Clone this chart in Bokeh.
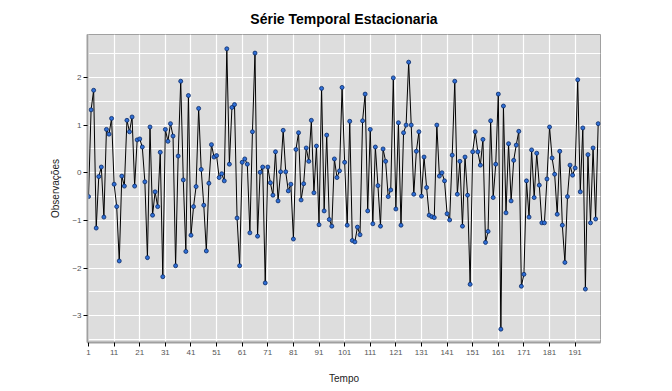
from bokeh.plotting import figure
from bokeh.models import Range1d, FixedTicker
from bokeh.embed import file_html
from bokeh.resources import INLINE

# time index
tempo = list(range(1, 201))

observacoes = [
    -0.50, 1.32, 1.73, -1.16, -0.08, 0.12, -0.93, 0.91, 0.81, 1.14,
    -0.24, -0.71, -1.85, -0.07, -0.28, 1.10, 0.86, 1.17, -0.28, 0.69,
    0.71, 0.54, -0.19, -1.78, 0.96, -0.89, -0.40, -0.71, 0.43, -2.18,
    0.91, 0.66, 1.03, 0.77, -1.95, 0.35, 1.92, -0.15, -1.65, 1.62,
    -1.31, -0.71, -0.29, 1.35, 0.07, -0.68, -1.64, -0.22, 0.59, 0.33,
    0.36, -0.10, -0.02, -0.17, 2.60, 0.18, 1.37, 1.43, -0.95, -1.95,
    0.22, 0.29, 0.18, -1.26, 0.86, 2.51, -1.33, 0.01, 0.12, -2.31,
    0.12, -0.21, -0.47, 0.44, -0.59, 0.02, 0.89, 0.02, -0.38, -0.24,
    -1.39, 0.49, 0.84, -0.57, -0.23, 0.52, 0.24, 1.10, -0.42, 0.56,
    -1.09, 1.77, -0.80, 0.79, -0.98, -1.12, 0.29, -0.10, 0.04, 1.79,
    0.22, -1.10, 1.08, -1.42, -1.45, -1.14, -1.30, 1.09, 1.65, -0.80,
    0.91, -1.07, 0.54, -0.27, -1.12, 0.50, 0.24, -0.50, -0.36, 1.99,
    -0.76, 1.05, -1.10, 0.84, 1.00, 2.32, 1.00, -0.45, 0.45, 0.86,
    -0.49, 0.33, -0.31, -0.89, -0.92, -0.94, 1.00, -0.07, 0.00, -0.17,
    -0.86, -0.99, 0.37, 1.92, -0.45, 0.24, -1.12, 0.33, -0.47, -2.34,
    0.44, 0.86, 0.44, 0.16, 0.70, -1.46, -1.23, 1.09, -0.52, 0.18,
    1.65, -3.28, 1.40, -0.84, 0.61, -0.59, 0.26, 0.58, 0.87, -2.38,
    -2.13, -0.17, -0.93, 0.48, -0.52, 0.41, -0.26, -1.05, -1.05, -0.13,
    0.96, 0.31, -0.03, -0.87, 0.45, -1.10, -1.88, -0.50, 0.16, -0.05,
    0.10, 1.95, -0.40, 0.94, -2.44, 0.38, -1.05, 0.52, -0.97, 1.03,
]

x_ticks = [1, 11, 21, 31, 41, 51, 61, 71, 81, 91, 101, 111, 121, 131, 141,
           151, 161, 171, 181, 191]
y_ticks = [-3, -2, -1, 0, 1, 2]
y_grid = [-3.5, -3, -2.5, -2, -1.5, -1, -0.5, 0, 0.5, 1, 1.5, 2, 2.5]

FONT = "Liberation Sans"

p = figure(width=672, height=391, output_backend="svg", toolbar_location=None,
           x_range=Range1d(0.6, 200.9), y_range=Range1d(-3.56, 2.9),
           min_border_left=87, min_border_right=72,
           min_border_top=33, min_border_bottom=49,
           background_fill_color="#DDDDDD", border_fill_color="white")

p.title.text = "Série Temporal Estacionaria"
p.title.align = "center"
p.title.text_font = FONT
p.title.text_font_size = "14px"
p.title.text_font_style = "bold"
p.title.text_color = "black"
p.title.standoff = 16

p.outline_line_color = "#A0A0A0"
p.outline_line_width = 1

p.xgrid.ticker = FixedTicker(ticks=x_ticks)
p.ygrid.ticker = FixedTicker(ticks=y_grid)
p.grid.grid_line_color = "white"
p.grid.grid_line_width = 1.2

p.xaxis.ticker = FixedTicker(ticks=x_ticks)
p.yaxis.ticker = FixedTicker(ticks=y_ticks)

for ax in (p.xaxis[0], p.yaxis[0]):
    ax.axis_line_color = "#A0A0A0"
    ax.axis_line_width = 2
    ax.major_tick_line_color = "black"
    ax.major_tick_out = 4
    ax.major_tick_in = 0
    ax.minor_tick_line_color = None
    ax.major_label_text_font = FONT
    ax.major_label_text_font_size = "8px"
    ax.major_label_text_color = "#555555"
    ax.axis_label_text_font = FONT
    ax.axis_label_text_font_size = "10px"
    ax.axis_label_text_font_style = "normal"
    ax.axis_label_text_color = "#222222"

p.xaxis.axis_label = "Tempo"
p.yaxis.axis_label = "Observações"
p.xaxis.major_label_standoff = 3
p.yaxis.major_label_standoff = 2
p.xaxis.axis_label_standoff = 15
p.yaxis.axis_label_standoff = 8

p.line(tempo, observacoes, line_color="black", line_width=1)
p.scatter(tempo, observacoes, size=4, fill_color="#2F6FD6",
          line_color="#0A2A66", line_width=0.8)

open("out.html", "w").write(file_html(p, INLINE))
